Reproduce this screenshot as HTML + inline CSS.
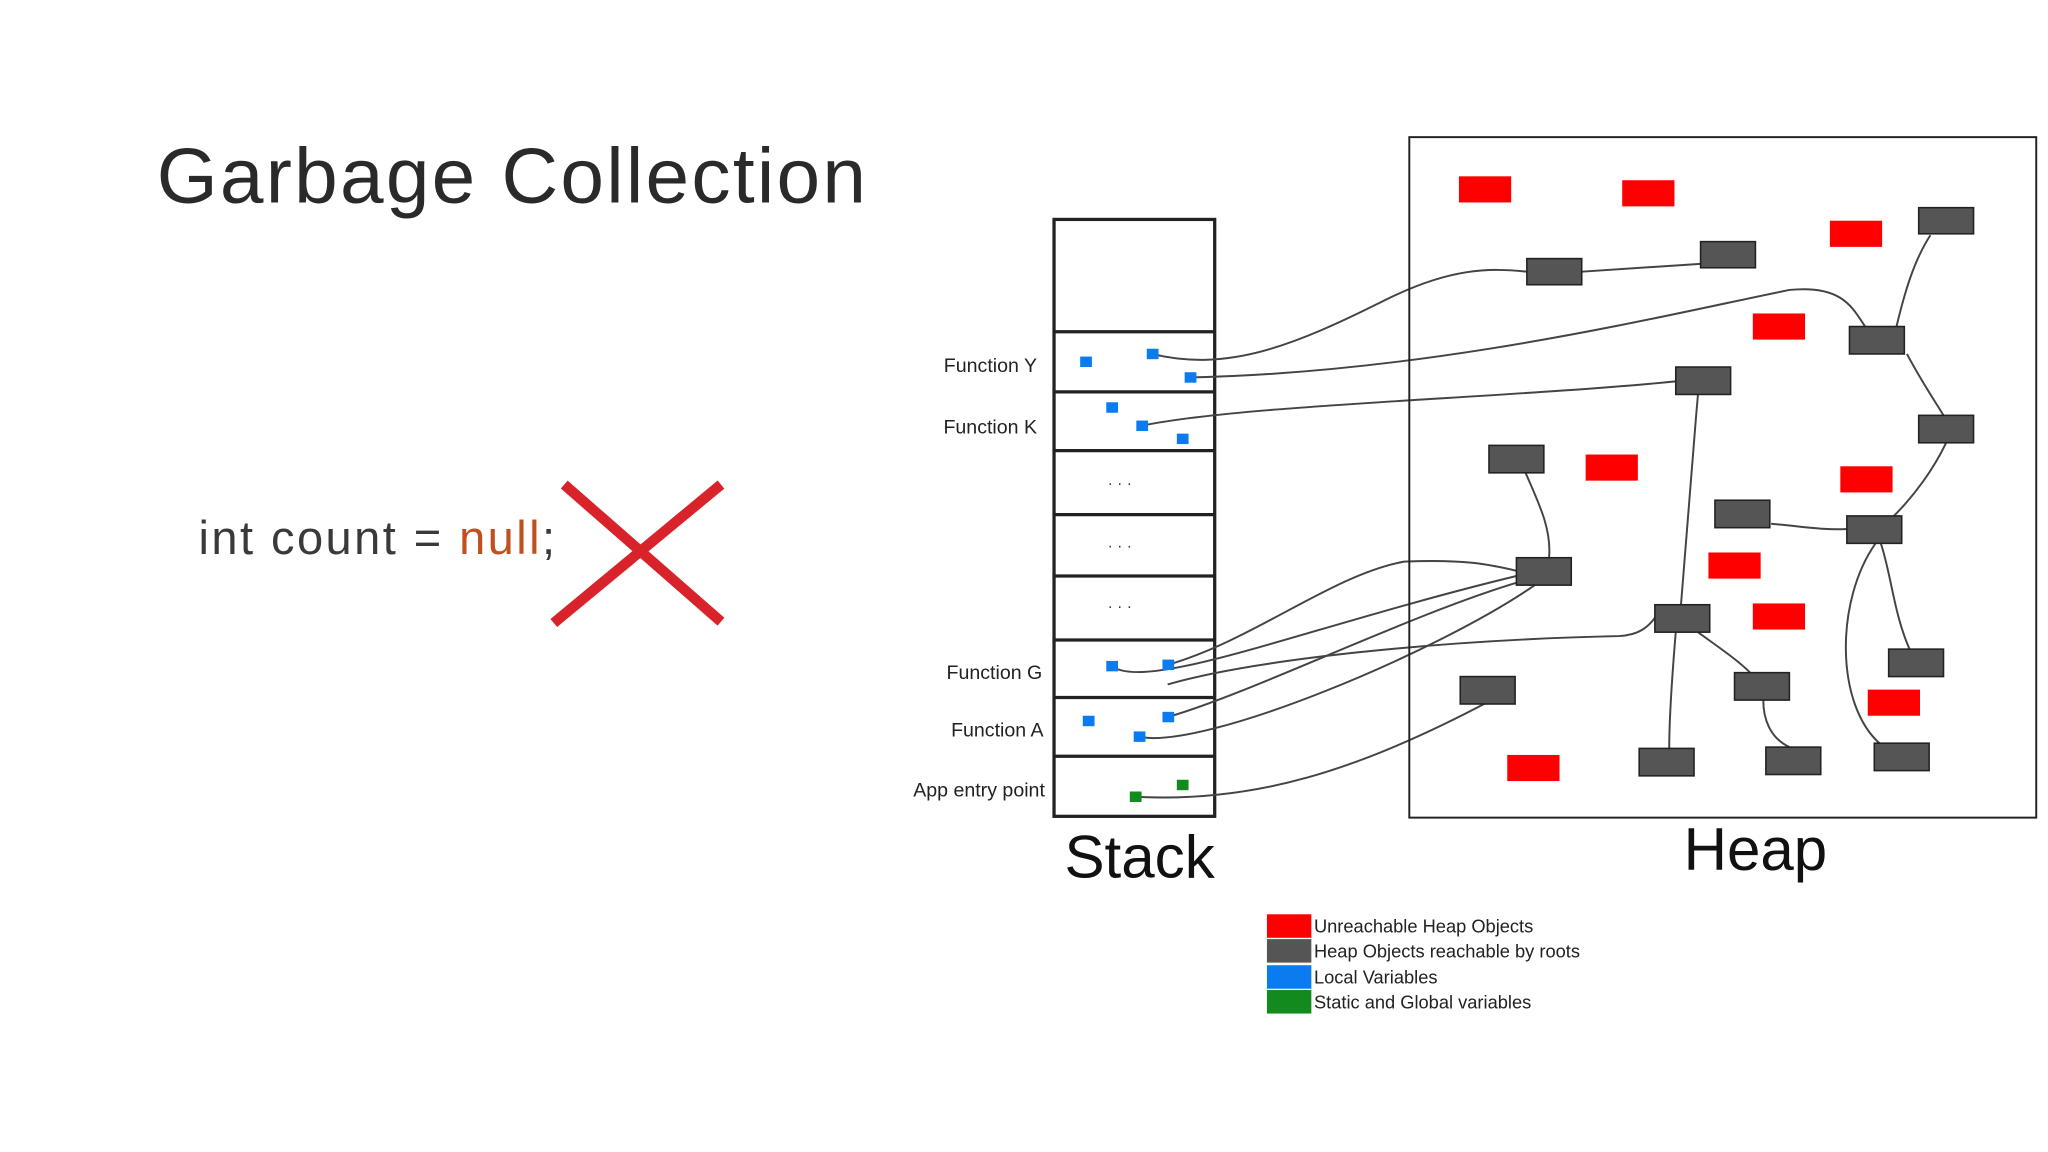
<!DOCTYPE html>
<html><head><meta charset="utf-8"><style>
html,body{margin:0;padding:0;background:#fff;}
svg{display:block;}
text{font-family:"Liberation Sans",sans-serif;}
</style></head><body>
<svg width="2048" height="1152" viewBox="0 0 1568 882" xmlns="http://www.w3.org/2000/svg">
<rect width="1568" height="882" fill="#fff"/>
<text x="120" y="155" font-size="60" fill="#2a2a2a" textLength="543" lengthAdjust="spacing">Garbage Collection</text>
<text x="152" y="424" font-size="36" fill="#3a3a3a" textLength="273" lengthAdjust="spacing">int count = <tspan fill="#c0501e">null</tspan>;</text>
<g stroke="#d9232a" stroke-width="8" stroke-linecap="butt">
<line x1="432" y1="371" x2="552" y2="476"/><line x1="552" y1="371" x2="424" y2="477"/></g>

<!-- stack -->
<rect x="807" y="168" width="123" height="457" fill="#fff" stroke="#222" stroke-width="2.5"/>
<g stroke="#222" stroke-width="2.5">
<line x1="807" y1="254" x2="930" y2="254"/><line x1="807" y1="300" x2="930" y2="300"/>
<line x1="807" y1="345" x2="930" y2="345"/><line x1="807" y1="394" x2="930" y2="394"/>
<line x1="807" y1="441" x2="930" y2="441"/><line x1="807" y1="490" x2="930" y2="490"/>
<line x1="807" y1="534" x2="930" y2="534"/><line x1="807" y1="579" x2="930" y2="579"/>
</g>
<g font-size="15" fill="#222" text-anchor="end">
<text x="794" y="285">Function Y</text><text x="794" y="332">Function K</text>
<text x="798" y="520">Function G</text><text x="799" y="564">Function A</text>
<text x="800" y="610">App entry point</text></g>
<g font-size="12" fill="#333"><text x="848" y="374">·  ·  ·</text><text x="848" y="422">·  ·  ·</text><text x="848" y="468">·  ·  ·</text></g>

<!-- connectors -->
<g fill="none" stroke="#444" stroke-width="1.5">
<path d="M882,271 C940,285 990,265 1060,230 C1110,205 1140,205 1169,208"/>
<path d="M911,289 C1100,285 1280,240 1370,222 C1410,218 1418,235 1428,250"/>
<path d="M874,326 C950,310 1150,305 1283,292"/>
<path d="M1211,208 L1302,202"/>
<path d="M1478,180 C1465,200 1458,225 1452,250"/>
<path d="M1460,271 C1470,290 1480,305 1488,318"/>
<path d="M1490,339 C1480,360 1465,380 1450,395"/>
<path d="M1356,401 C1380,403 1395,406 1414,405"/>
<path d="M1168,362 C1178,385 1188,405 1186,427"/>
<path d="M894,509 C960,490 1020,440 1075,430 C1120,428 1140,432 1161,437"/>
<path d="M851,510 C880,530 1000,480 1161,441"/>
<path d="M894,549 C960,530 1080,470 1165,445"/>
<path d="M872,564 C920,575 1100,500 1175,448"/>
<path d="M1300,302 C1295,360 1290,420 1287,463"/>
<path d="M894,524 C960,505 1100,490 1240,487 C1255,486 1262,480 1267,473"/>
<path d="M1283,484 C1280,520 1278,550 1278,573"/>
<path d="M1300,484 C1315,495 1330,505 1340,515"/>
<path d="M1350,536 C1350,550 1355,565 1370,572"/>
<path d="M1436,416 C1405,460 1405,540 1440,570"/>
<path d="M1440,416 C1448,440 1450,470 1462,497"/>
<path d="M869,610 C960,615 1040,590 1140,537"/>
</g>

<!-- stack vars -->
<g fill="#0a7cf0">
<rect x="827" y="273" width="9" height="8"/><rect x="878" y="267" width="9" height="8"/><rect x="907" y="285" width="9" height="8"/>
<rect x="847" y="308" width="9" height="8"/><rect x="870" y="322" width="9" height="8"/><rect x="901" y="332" width="9" height="8"/>
<rect x="847" y="506" width="9" height="8"/><rect x="890" y="505" width="9" height="8"/>
<rect x="829" y="548" width="9" height="8"/><rect x="890" y="545" width="9" height="8"/><rect x="868" y="560" width="9" height="8"/>
</g>
<g fill="#138a1e"><rect x="901" y="597" width="9" height="8"/><rect x="865" y="606" width="9" height="8"/></g>

<!-- heap -->
<rect x="1079" y="105" width="480" height="521" fill="none" stroke="#222" stroke-width="1.5"/>
<g fill="#f00">
<rect x="1117" y="135" width="40" height="20"/><rect x="1242" y="138" width="40" height="20"/>
<rect x="1401" y="169" width="40" height="20"/><rect x="1342" y="240" width="40" height="20"/>
<rect x="1214" y="348" width="40" height="20"/><rect x="1409" y="357" width="40" height="20"/>
<rect x="1308" y="423" width="40" height="20"/><rect x="1342" y="462" width="40" height="20"/>
<rect x="1430" y="528" width="40" height="20"/><rect x="1154" y="578" width="40" height="20"/>
</g>
<g fill="#555" stroke="#222" stroke-width="1.2">
<rect x="1169" y="198" width="42" height="20"/><rect x="1302" y="185" width="42" height="20"/>
<rect x="1469" y="159" width="42" height="20"/><rect x="1416" y="250" width="42" height="21"/>
<rect x="1469" y="318" width="42" height="21"/><rect x="1283" y="281" width="42" height="21"/>
<rect x="1140" y="341" width="42" height="21"/><rect x="1313" y="383" width="42" height="21"/>
<rect x="1414" y="395" width="42" height="21"/><rect x="1161" y="427" width="42" height="21"/>
<rect x="1267" y="463" width="42" height="21"/><rect x="1328" y="515" width="42" height="21"/>
<rect x="1446" y="497" width="42" height="21"/><rect x="1118" y="518" width="42" height="21"/>
<rect x="1255" y="573" width="42" height="21"/><rect x="1352" y="572" width="42" height="21"/>
<rect x="1435" y="569" width="42" height="21"/>
</g>
<text x="815" y="672" font-size="46" fill="#111">Stack</text>
<text x="1289" y="666" font-size="46" fill="#111">Heap</text>

<!-- legend -->
<rect x="970" y="700" width="34" height="18" fill="#f00"/>
<rect x="970" y="719" width="34" height="18" fill="#555"/>
<rect x="970" y="739" width="34" height="18" fill="#0a7cf0"/>
<rect x="970" y="758" width="34" height="18" fill="#138a1e"/>
<g font-size="14" fill="#222">
<text x="1006" y="714">Unreachable Heap Objects</text>
<text x="1006" y="733">Heap Objects reachable by roots</text>
<text x="1006" y="753">Local Variables</text>
<text x="1006" y="772">Static and Global variables</text></g>
</svg>
</body></html>
